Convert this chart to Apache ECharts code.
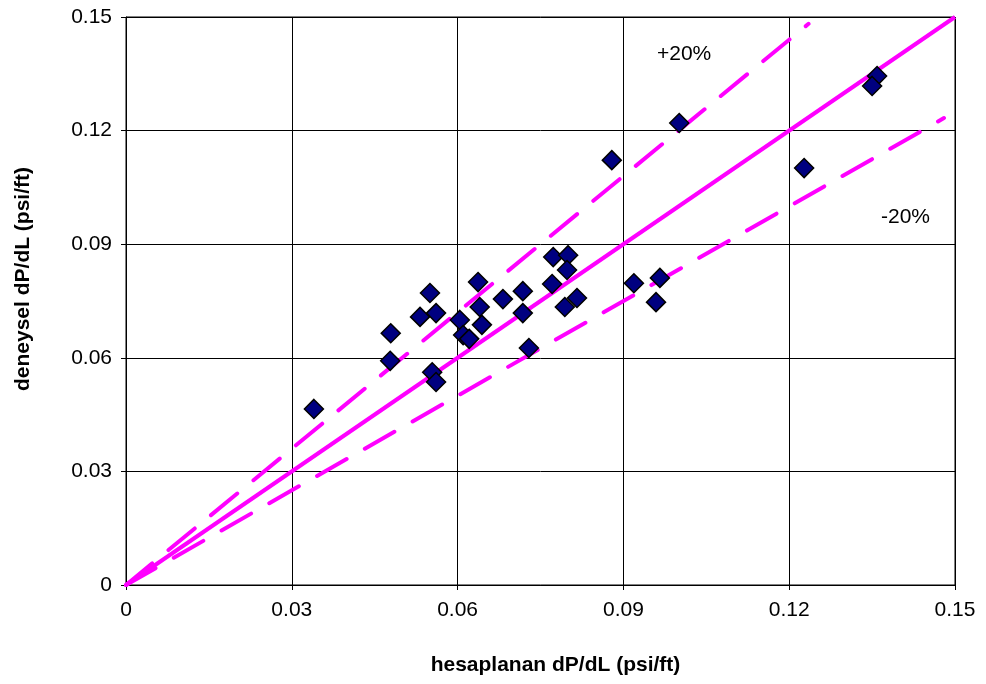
<!DOCTYPE html>
<html>
<head>
<meta charset="utf-8">
<script src="https://cdn.jsdelivr.net/npm/echarts@6/dist/echarts.min.js"></script>
<style>
  html, body { margin: 0; padding: 0; background: #fff; }
  #chart { width: 986px; height: 684px; }
</style>
</head>
<body>
<div id="chart"></div>
<script>
// measured points: [hesaplanan, deneysel]
var points = [
    [0.0340, 0.0465], [0.0479, 0.0665], [0.0478, 0.0592], [0.0532, 0.0708],
    [0.0550, 0.0771], [0.0561, 0.0718], [0.0554, 0.0562], [0.0561, 0.0536],
    [0.0604, 0.0700], [0.0637, 0.0800], [0.0640, 0.0734], [0.0644, 0.0687],
    [0.0610, 0.0660], [0.0621, 0.0650], [0.0682, 0.0755], [0.0718, 0.0776],
    [0.0718, 0.0718], [0.0729, 0.0626], [0.0773, 0.0866], [0.0800, 0.0871],
    [0.0798, 0.0832], [0.0771, 0.0795], [0.0794, 0.0734], [0.0816, 0.0758],
    [0.0919, 0.0797], [0.0966, 0.0811], [0.0959, 0.0747], [0.0879, 0.1122],
    [0.1001, 0.1220], [0.1359, 0.1344], [0.1350, 0.1318], [0.1227, 0.1101]
];
var lineEqual = [[0, 0], [0.15, 0.15]];
var linePlus20 = [[0, 0], [0.1235, 0.1482]];
var lineMinus20 = [[0, 0], [0.148, 0.1233]];
var ticks = [0, 0.03, 0.06, 0.09, 0.12, 0.15];

var ech = echarts.init(document.getElementById('chart'));
var dashStyle = {color: '#FF00FF', width: 4, type: [34, 21], cap: 'round'};
var option = {
    animation: false,
    grid: {
        left: 126, right: 31, top: 17, bottom: 99,
        show: true, borderColor: '#000', borderWidth: 1
    },
    xAxis: {
        type: 'value', min: 0, max: 0.15, interval: 0.03,
        name: 'hesaplanan dP/dL (psi/ft)',
        nameLocation: 'middle', nameGap: 70,
        nameTextStyle: {fontFamily: 'Liberation Sans', fontSize: 21, fontWeight: 'bold', color: '#000', padding: [0, 0, 0, 30]},
        axisLine: {lineStyle: {color: '#000', width: 1}},
        axisTick: {show: true, length: 5, lineStyle: {color: '#000'}},
        axisLabel: {fontFamily: 'Liberation Sans', fontSize: 21, color: '#000', margin: 15,
            formatter: function (v) { return String(+v.toFixed(2)); }},
        splitLine: {show: true, lineStyle: {color: '#000', width: 1}}
    },
    yAxis: {
        type: 'value', min: 0, max: 0.15, interval: 0.03,
        name: 'deneysel dP/dL (psi/ft)',
        nameLocation: 'middle', nameGap: 92, nameRotate: 90,
        nameTextStyle: {fontFamily: 'Liberation Sans', fontSize: 21, fontWeight: 'bold', color: '#000', padding: [0, 0, 0, 44]},
        axisLine: {lineStyle: {color: '#000', width: 1}},
        axisTick: {show: true, length: 5, lineStyle: {color: '#000'}},
        axisLabel: {fontFamily: 'Liberation Sans', fontSize: 21, color: '#000', margin: 14,
            formatter: function (v) { return String(+v.toFixed(2)); }},
        splitLine: {show: true, lineStyle: {color: '#000', width: 1}}
    },
    graphic: [
        {type: 'text', left: 657, top: 44, style: {text: '+20%', fontFamily: 'Liberation Sans', fontSize: 21, fill: '#000'}},
        {type: 'text', left: 881, top: 207, style: {text: '-20%', fontFamily: 'Liberation Sans', fontSize: 21, fill: '#000'}}
    ],
    series: [
        {type: 'line', data: lineEqual, symbol: 'none', lineStyle: {color: '#FF00FF', width: 4}, z: 3},
        {type: 'line', data: linePlus20, symbol: 'none', lineStyle: dashStyle, z: 3},
        {type: 'line', data: lineMinus20, symbol: 'none', lineStyle: dashStyle, z: 3},
        {
            type: 'scatter', data: points, symbol: 'diamond', symbolSize: 19, z: 4,
            itemStyle: {color: '#000080', borderColor: '#000', borderWidth: 1.5, opacity: 1}
        }
    ]
};
ech.setOption(option);
</script>
</body>
</html>
